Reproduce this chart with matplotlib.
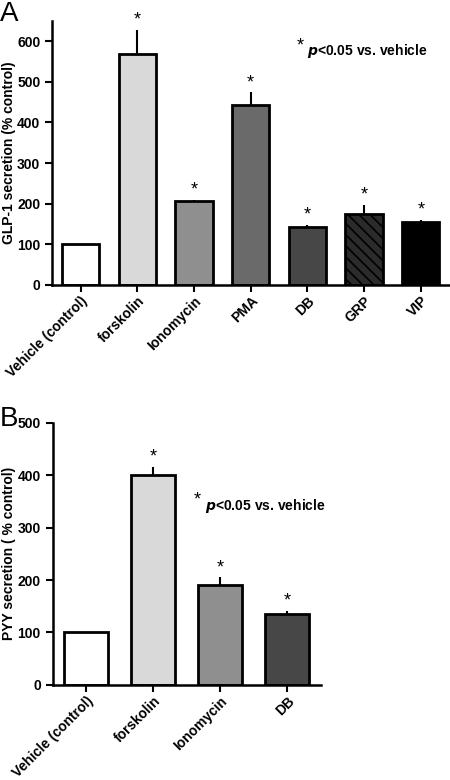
import matplotlib
matplotlib.use("Agg")
import matplotlib.pyplot as plt

plt.rcParams['font.family'] = ['Liberation Sans', 'DejaVu Sans']
plt.rcParams['font.weight'] = 'bold'
plt.rcParams['hatch.linewidth'] = 1.2

# panel A: GLP-1
cats_a = ['Vehicle (control)', 'forskolin', 'Ionomycin', 'PMA', 'DB', 'GRP', 'VIP']
vals_a = [100, 568, 207, 443, 143, 175, 154]
errs_a = [0, 61, 3, 31, 4, 22, 6]
sig_a = [False, True, True, True, True, True, True]
cols_a = ['#ffffff', '#d9d9d9', '#8f8f8f', '#6a6a6a', '#474747', '#2b2b2b', '#000000']
hatch_a = ['', '', '', '', '', '\\\\\\', '']

# panel B: PYY
cats_b = ['Vehicle (control)', 'forskolin', 'Ionomycin', 'DB']
vals_b = [100, 400, 191, 136]
errs_b = [0, 15, 14, 5]
sig_b = [False, True, True, True]
cols_b = ['#ffffff', '#d9d9d9', '#8f8f8f', '#474747']


def panel(ax, cats, vals, errs, sig, cols, hatches, ylim, ystep, ylabel):
    x = list(range(len(cats)))
    bars = ax.bar(x, vals, width=0.66, color=cols, edgecolor='black', linewidth=2, zorder=2)
    for b, h in zip(bars, hatches):
        if h:
            b.set_hatch(h)
    ax.errorbar(x, vals, yerr=[[0] * len(errs), errs], fmt='none', ecolor='black',
                elinewidth=1.5, capsize=0, zorder=1)
    for xi, v, e, s in zip(x, vals, errs, sig):
        if s:
            ax.annotate('*', (xi, v + e), xytext=(0, 1), textcoords='offset points',
                        ha='center', va='bottom', fontsize=13, fontweight='normal',
                        annotation_clip=False)
    ax.set_xlim(-0.5, len(cats) - 0.5)
    ax.set_ylim(0, ylim)
    ax.set_yticks(range(0, ylim + 1, ystep))
    ax.set_xticks(x)
    ax.set_xticklabels(cats, rotation=45, ha='right', rotation_mode='anchor', fontsize=8.8)
    ax.tick_params(axis='both', direction='out', width=1.5, length=5, labelsize=10)
    ax.tick_params(axis='x', pad=1.5)
    for sp in ['top', 'right']:
        ax.spines[sp].set_visible(False)
    for sp in ['left', 'bottom']:
        ax.spines[sp].set_linewidth(1.8)
    ax.set_ylabel(ylabel, fontsize=10, fontweight='bold', labelpad=1)


fig = plt.figure(figsize=(4.5, 7.8), dpi=100)

ax1 = fig.add_axes([0.116, 0.635, 0.882, 0.338])
panel(ax1, cats_a, vals_a, errs_a, sig_a, cols_a, hatch_a, 650, 100, 'GLP-1 secretion (% control)')
ax1.set_yticks(range(0, 601, 100))
ax1.text(0.615, 0.905, '*', transform=ax1.transAxes, fontsize=13, fontweight='normal', va='center')
ax1.text(0.643, 0.885, r'$\mathbfit{p}$<0.05 vs. vehicle', transform=ax1.transAxes,
         fontsize=10, va='center')

ax2 = fig.add_axes([0.117, 0.122, 0.596, 0.336])
panel(ax2, cats_b, vals_b, errs_b, sig_b, cols_b, [''] * 4, 500, 100, 'PYY secretion ( % control)')
ax2.text(0.527, 0.705, '*', transform=ax2.transAxes, fontsize=13, fontweight='normal', va='center')
ax2.text(0.568, 0.682, r'$\mathbfit{p}$<0.05 vs. vehicle', transform=ax2.transAxes,
         fontsize=10, va='center')

fig.text(0.0, 0.999, 'A', fontsize=20, fontweight='normal', va='top', ha='left')
fig.text(0.0, 0.479, 'B', fontsize=20, fontweight='normal', va='top', ha='left')

fig.savefig('out.png', dpi=100)
